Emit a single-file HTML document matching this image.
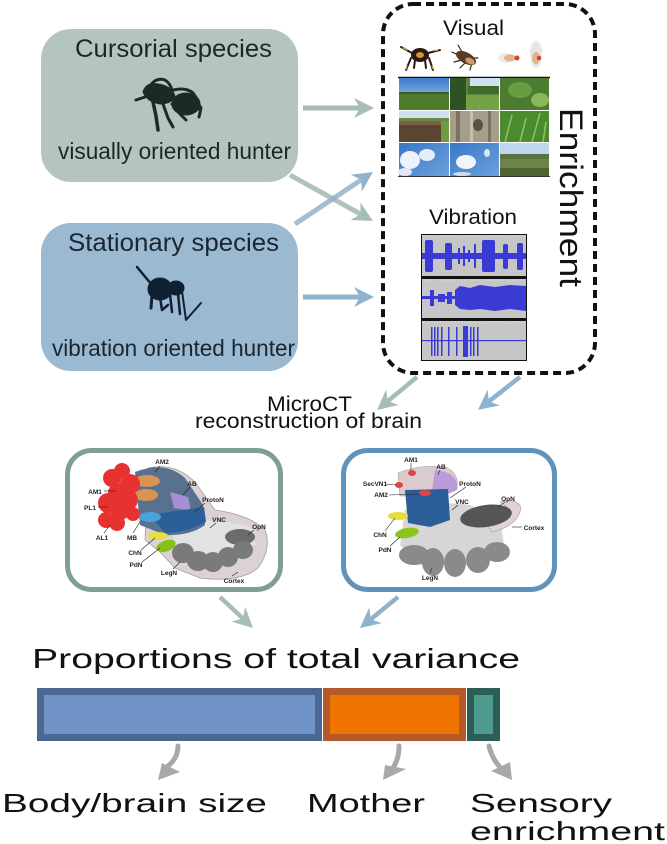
<!DOCTYPE html>
<html>
<head>
<meta charset="utf-8">
<style>
html,body{margin:0;padding:0;background:#fff;}
svg{display:block;}
text{font-family:"Liberation Sans",Arial,sans-serif;}
</style>
</head>
<body>
<svg width="667" height="844" viewBox="0 0 667 844" xmlns="http://www.w3.org/2000/svg">
<defs>
<marker id="hg" viewBox="0 0 10 10" refX="3" refY="5" markerWidth="20" markerHeight="20" markerUnits="userSpaceOnUse" orient="auto"><path d="M0,0 L10,5 L0,10 L3,5 Z" fill="#a6bcb7"/></marker>
<marker id="hb" viewBox="0 0 10 10" refX="3" refY="5" markerWidth="20" markerHeight="20" markerUnits="userSpaceOnUse" orient="auto"><path d="M0,0 L10,5 L0,10 L3,5 Z" fill="#90b3cd"/></marker>
<linearGradient id="sky1" x1="0" y1="0" x2="0" y2="1"><stop offset="0" stop-color="#3d7bcc"/><stop offset="1" stop-color="#b9d3ef"/></linearGradient>
<linearGradient id="sky2" x1="0" y1="0" x2="1" y2="1"><stop offset="0" stop-color="#3a78c6"/><stop offset="1" stop-color="#6aa0dc"/></linearGradient>
</defs>

<!-- Species boxes -->
<rect x="41" y="29" width="257" height="153" rx="30" fill="#b4c4bf"/>
<rect x="41" y="223" width="257" height="148" rx="30" fill="#9bb9d1"/>
<text x="75" y="57" font-size="25" fill="#1c2828" textLength="197" lengthAdjust="spacingAndGlyphs">Cursorial species</text>
<text x="58" y="159" font-size="23" fill="#1c2828" textLength="233" lengthAdjust="spacingAndGlyphs">visually oriented hunter</text>
<text x="68" y="251" font-size="25" fill="#1a2630" textLength="211" lengthAdjust="spacingAndGlyphs">Stationary species</text>
<text x="52" y="356" font-size="23" fill="#1a2630" textLength="243" lengthAdjust="spacingAndGlyphs">vibration oriented hunter</text>

<!-- jumping spider -->
<g fill="#1b2a27" stroke="#1b2a27" stroke-linecap="round" stroke-linejoin="round">
  <path d="M143,92 Q146,82 158,84 Q172,86 175,96 Q172,104 160,104 Q147,102 143,92Z"/>
  <ellipse cx="186" cy="104" rx="14" ry="11"/>
  <path d="M150,86 Q156,77 165,80 Q170,83 172,90" fill="none" stroke-width="3"/>
  <path d="M168,92 Q182,86 192,92 Q198,98 200,110" fill="none" stroke-width="3"/>
  <path d="M145,97 L136,100" fill="none" stroke-width="3"/>
  <path d="M153,102 L156,116 L158,130" fill="none" stroke-width="3.5"/>
  <path d="M163,104 L168,118 L173,127" fill="none" stroke-width="3"/>
  <path d="M172,104 L180,114 L186,120" fill="none" stroke-width="3"/>
  <path d="M195,98 L201,108 L199,117" fill="none" stroke-width="3"/>
</g>

<!-- stationary spider -->
<g fill="#0f2033" stroke="#0f2033" stroke-linecap="round" stroke-linejoin="round">
  <ellipse cx="160" cy="289" rx="12" ry="11"/>
  <ellipse cx="176" cy="288" rx="8" ry="7"/>
  <path d="M137,267 L152,285" fill="none" stroke-width="2.5"/>
  <path d="M152,295 L151,308" fill="none" stroke-width="3"/>
  <path d="M160,297 L162,310 L168,305" fill="none" stroke-width="2.5"/>
  <path d="M170,294 L172,312" fill="none" stroke-width="2.5"/>
  <path d="M178,293 L180,314" fill="none" stroke-width="2.5"/>
  <path d="M182,291 L186,320 L201,303" fill="none" stroke-width="2"/>
</g>

<!-- top arrows -->
<g stroke-width="5" fill="none">
  <line x1="303" y1="108" x2="360" y2="108" stroke="#a6bcb7" marker-end="url(#hg)"/>
  <line x1="290" y1="175" x2="360.7" y2="214.2" stroke="#a6bcb7" stroke-opacity="0.9" marker-end="url(#hg)"/>
  <line x1="295" y1="224" x2="361.3" y2="179.8" stroke="#90b3cd" stroke-opacity="0.85" marker-end="url(#hb)"/>
  <line x1="303" y1="297" x2="360" y2="297" stroke="#90b3cd" marker-end="url(#hb)"/>
</g>

<!-- Enrichment dashed box -->
<rect x="383" y="4" width="212" height="369" rx="30" fill="none" stroke="#111" stroke-width="4" stroke-dasharray="8 5"/>
<text x="443" y="35" font-size="21" fill="#111" textLength="61" lengthAdjust="spacingAndGlyphs">Visual</text>
<text x="429" y="224" font-size="21" fill="#111" textLength="88" lengthAdjust="spacingAndGlyphs">Vibration</text>
<text transform="translate(560,108) rotate(90)" font-size="32" fill="#111" textLength="179" lengthAdjust="spacingAndGlyphs">Enrichment</text>

<!-- insects -->
<g stroke-linecap="round">
  <g stroke="#2a1a10" stroke-width="2" fill="none">
    <path d="M401,47 L412,53"/><path d="M428,53 L440,50"/>
    <path d="M411,58 L406,70"/><path d="M429,58 L433,70"/>
    <path d="M415,60 L414,68"/><path d="M425,60 L426,68"/>
  </g>
  <g stroke="#e2a34a" stroke-width="1" fill="none">
    <path d="M403,48 L407,50"/><path d="M435,51 L438,50"/><path d="M407,66 L406,69"/><path d="M432,66 L433,69"/>
  </g>
  <ellipse cx="420" cy="55" rx="9" ry="7" fill="#2a1a10"/>
  <ellipse cx="420" cy="55" rx="4" ry="3" fill="#d6903c"/>
  <g stroke="#3a2818" stroke-width="1.2" fill="none">
    <path d="M458,45 L462,52"/><path d="M452,52 L460,56"/><path d="M454,62 L462,60"/><path d="M460,68 L466,62"/><path d="M470,70 L472,63"/><path d="M478,58 L474,58"/>
  </g>
  <ellipse cx="466" cy="58" rx="11" ry="5.5" transform="rotate(28 466 58)" fill="#5a3c22"/>
  <ellipse cx="470" cy="61" rx="5" ry="3" transform="rotate(28 470 61)" fill="#c8a070"/>
  <ellipse cx="506" cy="58" rx="8" ry="5" fill="#ececec"/>
  <ellipse cx="510" cy="58" rx="6" ry="3.5" fill="#e2b48c"/>
  <circle cx="517" cy="58" r="2.5" fill="#d04434"/>
  <ellipse cx="536" cy="52" rx="6" ry="11" fill="#e6e6e6"/>
  <ellipse cx="536" cy="60" rx="5" ry="8" fill="#e8e8e8"/>
  <ellipse cx="536" cy="58" rx="4" ry="6" fill="#e2b48c"/>
  <circle cx="539" cy="58" r="2.3" fill="#d04434"/>
</g>

<!-- photo grid -->
<rect x="399" y="77" width="151" height="100" fill="#fff"/>
<line x1="398" y1="77.5" x2="550" y2="77.5" stroke="#111" stroke-width="1.5"/>
<!-- r1c1 -->
<rect x="399" y="78" width="50" height="32" fill="url(#sky1)"/>
<rect x="399" y="93" width="50" height="17" fill="#4d7c2c"/>
<rect x="399" y="92" width="50" height="2" fill="#3b5e26"/>
<!-- r1c2 -->
<rect x="450" y="78" width="49" height="32" fill="#5a8640"/>
<rect x="470" y="78" width="29" height="10" fill="#cfe0f0"/>
<rect x="468" y="86" width="31" height="8" fill="#3f6a2a"/>
<rect x="450" y="78" width="16" height="32" fill="#2f5222"/>
<rect x="466" y="95" width="33" height="15" fill="#74a244"/>
<!-- r1c3 -->
<rect x="500" y="78" width="49" height="32" fill="#4c7c30"/>
<ellipse cx="520" cy="90" rx="12" ry="8" fill="#6a9c42"/>
<ellipse cx="540" cy="100" rx="9" ry="7" fill="#88b858"/>
<!-- r2c1 -->
<rect x="399" y="111" width="50" height="31" fill="#cfe0ef"/>
<rect x="399" y="118" width="50" height="3" fill="#6b8a48"/>
<rect x="440" y="121" width="9" height="21" fill="#6f9c40"/>
<rect x="399" y="121" width="42" height="21" fill="#5a4530"/>
<rect x="399" y="121" width="42" height="4" fill="#7a6048"/>
<!-- r2c2 -->
<rect x="450" y="111" width="49" height="31" fill="#a69d8a"/>
<rect x="456" y="111" width="4" height="31" fill="#7b7162"/>
<rect x="470" y="111" width="3" height="31" fill="#c8c0ae"/>
<ellipse cx="478" cy="125" rx="5" ry="6" fill="#5a5246"/>
<rect x="488" y="111" width="3" height="31" fill="#7b7162"/>
<!-- r2c3 -->
<rect x="500" y="111" width="49" height="31" fill="#4c8a30"/>
<path d="M505,142 L512,115 M520,142 L526,118 M532,142 L540,113 M543,142 L546,122" stroke="#90c262" stroke-width="1.5"/>
<!-- r3c1 -->
<rect x="399" y="143" width="50" height="33" fill="url(#sky2)"/>
<ellipse cx="410" cy="160" rx="10" ry="9" fill="#eef3fa"/>
<ellipse cx="427" cy="155" rx="8" ry="6" fill="#e4ecf6"/>
<ellipse cx="405" cy="172" rx="7" ry="4" fill="#dfe8f4"/>
<!-- r3c2 -->
<rect x="450" y="143" width="49" height="33" fill="url(#sky2)"/>
<ellipse cx="466" cy="162" rx="10" ry="7" fill="#f1f5fb"/>
<ellipse cx="487" cy="153" rx="3" ry="4" fill="#dbe6f3"/>
<ellipse cx="462" cy="174" rx="9" ry="2" fill="#cfdcef"/>
<!-- r3c3 -->
<rect x="500" y="143" width="49" height="33" fill="#c0d6ee"/>
<rect x="500" y="154" width="49" height="5" fill="#5d7242"/>
<rect x="500" y="159" width="49" height="17" fill="#6e8249"/>
<rect x="500" y="168" width="49" height="8" fill="#4e6532"/>
<line x1="398" y1="176.5" x2="550" y2="176.5" stroke="#333" stroke-width="1"/>

<!-- waveforms -->
<rect x="421" y="234" width="106" height="127" fill="#111"/>
<rect x="422" y="235" width="104" height="41" fill="#c6c6c6"/>
<rect x="422" y="279" width="104" height="39" fill="#c6c6c6"/>
<rect x="422" y="321" width="104" height="39" fill="#c6c6c6"/>
<g stroke="#e8e8e8" stroke-width="1" stroke-dasharray="1 2">
  <line x1="422" y1="236" x2="526" y2="236"/><line x1="422" y1="280" x2="526" y2="280"/><line x1="422" y1="322" x2="526" y2="322"/>
</g>
<g fill="#3a3ad4">
  <rect x="422" y="253" width="104" height="6"/>
  <rect x="425" y="240" width="8" height="32" rx="2"/>
  <rect x="445" y="243" width="7" height="27" rx="2"/>
  <rect x="458" y="248" width="2" height="16"/>
  <rect x="463" y="246" width="2" height="20"/>
  <rect x="468" y="250" width="2" height="12"/>
  <rect x="474" y="244" width="2" height="24"/>
  <rect x="482" y="240" width="13" height="32" rx="2"/>
  <rect x="503" y="244" width="5" height="25" rx="2"/>
  <rect x="517" y="243" width="6" height="27" rx="2"/>
  <rect x="422" y="296" width="104" height="3"/>
  <rect x="430" y="290" width="4" height="16"/>
  <rect x="438" y="294" width="7" height="8"/>
  <rect x="447" y="292" width="5" height="12"/>
  <path d="M455,290 L460,286 L470,288 L480,285 L495,287 L510,285 L526,286 L526,311 L510,309 L495,311 L480,309 L470,310 L460,309 L455,305 Z"/>
  <rect x="422" y="340" width="104" height="1.2"/>
  <rect x="431" y="327" width="1.5" height="29"/>
  <rect x="434" y="327" width="1.5" height="29"/>
  <rect x="437" y="327" width="1.5" height="29"/>
  <rect x="441" y="327" width="1.5" height="29"/>
  <rect x="448" y="327" width="1.5" height="29"/>
  <rect x="456" y="327" width="1.5" height="29"/>
  <rect x="463" y="326" width="5" height="31"/>
  <rect x="470" y="327" width="1.5" height="29"/>
  <rect x="473" y="327" width="1.5" height="29"/>
  <rect x="477" y="327" width="1.5" height="29"/>
</g>

<!-- down arrows from enrichment -->
<g stroke-width="4.5" fill="none">
  <line x1="417" y1="377" x2="387.8" y2="401.1" stroke="#a6bcb7" marker-end="url(#hg)"/>
  <line x1="520" y1="377" x2="489" y2="401.3" stroke="#90b3cd" marker-end="url(#hb)"/>
</g>

<text x="267" y="411" font-size="21" fill="#111" textLength="85" lengthAdjust="spacingAndGlyphs">MicroCT</text>
<text x="195" y="428" font-size="21" fill="#111" textLength="227" lengthAdjust="spacingAndGlyphs">reconstruction of brain</text>

<!-- left brain box -->
<rect x="67.5" y="450.5" width="213" height="139" rx="24" fill="#fff" stroke="#7f9e98" stroke-width="5"/>
<g>
  <path d="M148,468 Q175,462 195,482 L215,510 Q250,515 265,530 Q272,548 258,568 Q240,583 200,578 L175,568 L160,552 L145,540 Z" fill="#dcd2d3" stroke="#a89a9a" stroke-width="0.8"/>
  <path d="M175,525 Q210,515 250,527 L256,545 L205,560 L172,555 Z" fill="#e2e2e2"/>
  <path d="M135,472 Q165,460 185,478 L203,505 L205,525 Q190,536 165,535 L140,525 Z" fill="#57718f"/>
  <ellipse cx="147" cy="481" rx="13" ry="6" fill="#d89450"/>
  <ellipse cx="146" cy="495" rx="12" ry="6" fill="#d89450"/>
  <path d="M170,492 L188,497 L191,511 L174,508 Z" fill="#a68fd4"/>
  <path d="M150,515 Q175,511 204,507 L206,522 Q186,533 165,533 Z" fill="#2b5f97"/>
  <ellipse cx="150" cy="517" rx="11" ry="5" fill="#4aa2da"/>
  <g fill="#e83232">
    <circle cx="112" cy="478" r="9"/><circle cx="122" cy="471" r="8"/><circle cx="130" cy="484" r="10"/>
    <circle cx="118" cy="493" r="10"/><circle cx="108" cy="503" r="10"/><circle cx="120" cy="510" r="10"/>
    <circle cx="106" cy="520" r="8"/><circle cx="117" cy="523" r="8"/><circle cx="128" cy="500" r="10"/><circle cx="133" cy="514" r="7"/>
  </g>
  <ellipse cx="158" cy="536" rx="10" ry="4" fill="#e6df3e"/>
  <ellipse cx="166" cy="546" rx="10" ry="5.5" transform="rotate(-20 166 546)" fill="#86c01e"/>
  <ellipse cx="240" cy="537" rx="15" ry="8" fill="#6c6c6c"/>
  <g fill="#7a7a7a">
    <ellipse cx="183" cy="553" rx="11" ry="10"/><ellipse cx="198" cy="561" rx="11" ry="10"/>
    <ellipse cx="213" cy="562" rx="10" ry="10"/><ellipse cx="228" cy="557" rx="10" ry="10"/><ellipse cx="243" cy="550" rx="10" ry="9"/>
  </g>
</g>
<g stroke="#222" stroke-width="0.6">
  <line x1="160" y1="466" x2="155" y2="472"/><line x1="190" y1="487" x2="183" y2="495"/>
  <line x1="104" y1="491" x2="116" y2="491"/><line x1="98" y1="507" x2="108" y2="507"/>
  <line x1="205" y1="503" x2="195" y2="512"/><line x1="216" y1="523" x2="210" y2="528"/>
  <line x1="254" y1="530" x2="248" y2="535"/><line x1="104" y1="533" x2="110" y2="525"/>
  <line x1="133" y1="533" x2="140" y2="522"/><line x1="141" y1="550" x2="155" y2="538"/>
  <line x1="142" y1="562" x2="160" y2="548"/><line x1="173" y1="569" x2="180" y2="562"/>
  <line x1="232" y1="576" x2="238" y2="572"/>
</g>
<g font-size="6.5" font-weight="bold" fill="#222" text-anchor="middle">
  <text x="162" y="464">AM2</text><text x="192" y="486">AB</text><text x="95" y="494">AM1</text>
  <text x="90" y="510">PL1</text><text x="213" y="502">ProtoN</text><text x="219" y="522">VNC</text>
  <text x="259" y="529">OpN</text><text x="102" y="540">AL1</text><text x="132" y="540">MB</text>
  <text x="135" y="555">ChN</text><text x="136" y="567">PdN</text><text x="169" y="575">LegN</text>
  <text x="234" y="583">Cortex</text>
</g>

<!-- right brain box -->
<rect x="343.5" y="450.5" width="211" height="139" rx="24" fill="#fff" stroke="#5f93bb" stroke-width="5"/>
<g>
  <path d="M405,510 Q440,500 470,505 L500,520 L505,550 L470,565 L420,565 L400,545 Z" fill="#d6d6d6"/>
  <path d="M500,502 Q518,498 521,508 Q518,526 492,532 L488,526 Q510,520 508,508 Z" fill="#e2d2d2" stroke="#a89a9a" stroke-width="0.6"/>
  <ellipse cx="486" cy="516" rx="26" ry="11" transform="rotate(-8 486 516)" fill="#555"/>
  <g fill="#8a8a8a">
    <ellipse cx="414" cy="555" rx="15" ry="10"/><ellipse cx="433" cy="562" rx="11" ry="14"/>
    <ellipse cx="455" cy="563" rx="11" ry="14"/><ellipse cx="478" cy="560" rx="12" ry="13"/><ellipse cx="497" cy="552" rx="13" ry="10"/>
  </g>
  <path d="M398,473 Q420,464 445,467 Q459,472 457,488 L440,496 L400,496 Z" fill="#dacbcf" stroke="#a89a9a" stroke-width="0.6"/>
  <path d="M435,470 Q459,472 457,490 L441,497 L432,490 Z" fill="#b79cd9"/>
  <path d="M405,490 L448,489 L450,520 L430,527 L408,523 Z" fill="#2b5e98"/>
  <ellipse cx="412" cy="473" rx="4" ry="3" fill="#e04545"/>
  <ellipse cx="399" cy="485" rx="4" ry="3" fill="#e04545"/>
  <ellipse cx="425" cy="493" rx="6" ry="3" fill="#e04545"/>
  <ellipse cx="398" cy="516" rx="10" ry="4" fill="#e6dc3a"/>
  <ellipse cx="407" cy="533" rx="12" ry="5" transform="rotate(-10 407 533)" fill="#8cc41e"/>
</g>
<g stroke="#222" stroke-width="0.6">
  <line x1="411" y1="463" x2="411" y2="470"/><line x1="440" y1="470" x2="438" y2="475"/>
  <line x1="386" y1="484" x2="396" y2="485"/><line x1="466" y1="487" x2="450" y2="498"/>
  <line x1="389" y1="495" x2="420" y2="494"/><line x1="458" y1="505" x2="452" y2="510"/>
  <line x1="505" y1="502" x2="498" y2="507"/><line x1="512" y1="527" x2="522" y2="527"/>
  <line x1="385" y1="531" x2="395" y2="518"/><line x1="390" y1="546" x2="400" y2="537"/>
  <line x1="430" y1="573" x2="432" y2="568"/>
</g>
<g font-size="6.5" font-weight="bold" fill="#222" text-anchor="middle">
  <text x="411" y="462">AM1</text><text x="441" y="469">AB</text><text x="375" y="486">SecVN1</text>
  <text x="470" y="486">ProtoN</text><text x="381" y="497">AM2</text><text x="462" y="504">VNC</text>
  <text x="508" y="501">OpN</text><text x="534" y="530">Cortex</text><text x="380" y="537">ChN</text>
  <text x="385" y="552">PdN</text><text x="430" y="580">LegN</text>
</g>

<!-- arrows from brain boxes -->
<g stroke-width="4.5" fill="none">
  <line x1="220" y1="597" x2="242.8" y2="618.4" stroke="#a6bcb7" marker-end="url(#hg)"/>
  <line x1="398" y1="597" x2="370.8" y2="619.2" stroke="#90b3cd" marker-end="url(#hb)"/>
</g>

<text x="32" y="668" font-size="28" fill="#111" textLength="488" lengthAdjust="spacingAndGlyphs">Proportions of total variance</text>

<!-- bar -->
<rect x="40.5" y="691.5" width="278" height="46" fill="#6f93c7" stroke="#4b6792" stroke-width="7"/>
<rect x="326.5" y="691.5" width="136" height="46" fill="#f07400" stroke="#b3592a" stroke-width="7"/>
<rect x="470.5" y="691.5" width="26" height="46" fill="#4f9a8e" stroke="#2d5e55" stroke-width="7"/>

<!-- gray curved arrows -->
<g stroke="#a8a8a8" stroke-width="5" fill="none" stroke-linecap="round">
  <path d="M178,746 Q178,758 168,766"/>
  <path d="M399,746 Q399,758 394,766"/>
  <path d="M489,746 Q492,758 499,766"/>
</g>
<g fill="#a8a8a8">
  <polygon points="158,780 162,763 180,772"/>
  <polygon points="383,780 385,765 406,769"/>
  <polygon points="512,780 491,771 510,762"/>
</g>

<text x="2" y="812" font-size="26" fill="#111" textLength="265" lengthAdjust="spacingAndGlyphs">Body/brain size</text>
<text x="307" y="812" font-size="26" fill="#111" textLength="118" lengthAdjust="spacingAndGlyphs">Mother</text>
<text x="470" y="812" font-size="26" fill="#111" textLength="142" lengthAdjust="spacingAndGlyphs">Sensory</text>
<text x="470" y="840" font-size="26" fill="#111" textLength="195" lengthAdjust="spacingAndGlyphs">enrichment</text>
</svg>
</body>
</html>
